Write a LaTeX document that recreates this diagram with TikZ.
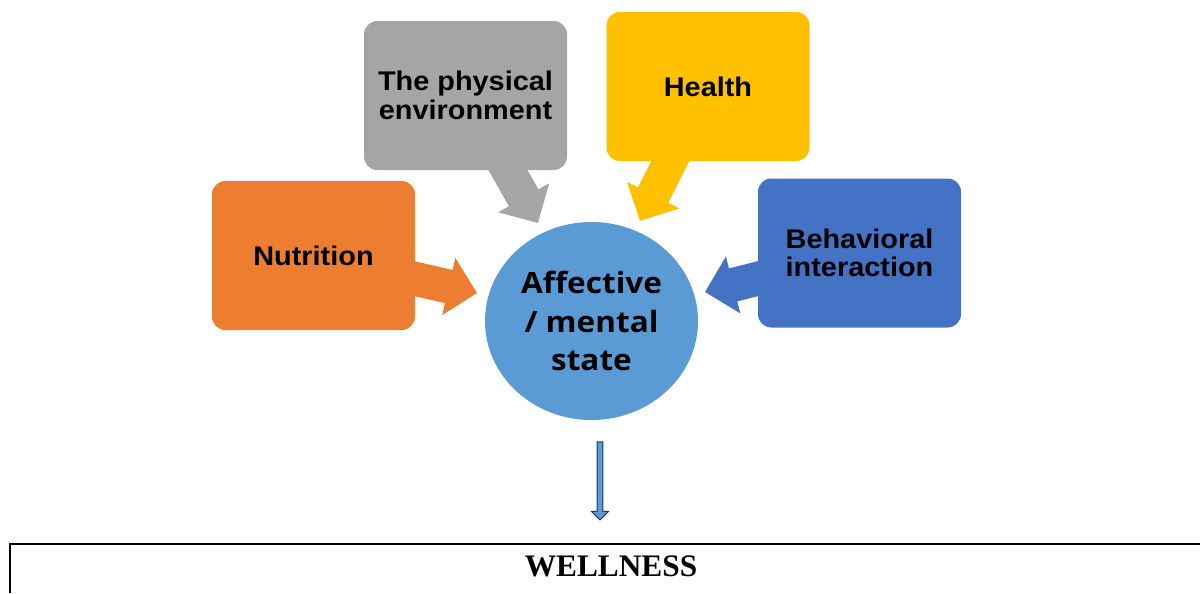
\documentclass[tikz,border=0pt]{standalone}
\usepackage{fontspec}
\setmainfont{Liberation Serif}
\newfontfamily\boxfont[FakeStretch=1.07]{Liberation Sans}
\newfontfamily\circfont[FakeStretch=1.075]{Open Sans}
\usetikzlibrary{arrows.meta,shapes.geometric,shapes.arrows,backgrounds}
\definecolor{nutorange}{HTML}{ED7D31}
\definecolor{envgray}{HTML}{A5A5A5}
\definecolor{healthyellow}{HTML}{FFC000}
\definecolor{behavblue}{HTML}{4472C4}
\definecolor{stateblue}{HTML}{5B9BD5}
\definecolor{downnavy}{HTML}{203864}
\begin{document}
\begin{tikzpicture}[x=0.75pt,y=-0.75pt,
  factor/.style={rounded corners=10pt, minimum width=152.25pt, minimum height=111.75pt, inner sep=0pt, align=center, font=\boxfont\bfseries\fontsize{20.25}{21.5}\selectfont},
  feed/.style={line width=25.5pt, -{Triangle[length=21.75pt,width=42.75pt]}}]
\useasboundingbox (0,0) rectangle (1200,593);
\node[factor, fill=nutorange] (nut) at (313.5,255.5){Nutrition};
\node[factor, fill=envgray] (env) at (465.5,95.5){The physical\\environment};
\node[factor, fill=healthyellow] (health) at (708,86.5){Health};
\node[factor, fill=behavblue] (behav) at (859.5,253){Behavioral\\interaction};
\node[ellipse, fill=stateblue, minimum width=159.75pt, minimum height=148.5pt, inner sep=0pt, align=center, font=\circfont\bfseries\fontsize{22}{29}\selectfont] (state) at (591.5,321){Affective\\/ mental\\state};
\coordinate (tnut) at (477,293);
\coordinate (tenv) at (538,223);
\coordinate (thealth) at (640,221);
\coordinate (tbehav) at (705,292);
\begin{scope}[on background layer]
\draw[feed, nutorange] (nut.center) -- (tnut);
\draw[feed, envgray] (env.center) -- (tenv);
\draw[feed, healthyellow] (health.center) -- (thealth);
\draw[feed, behavblue] (behav.center) -- (tbehav);
\end{scope}
\node[single arrow, draw=downnavy, fill=stateblue, line width=0.8pt, rotate=-90, minimum height=58.5pt, inner xsep=0pt, inner ysep=1.75pt, single arrow head extend=4.25pt] (down) at (600,479.5){};
\draw[line width=1.1pt] (10,593) -- (10,544) -- (1200,544);
\node[font=\bfseries\fontsize{23.5}{28}\selectfont] (well) at (611,566){WELLNESS};
\end{tikzpicture}
\end{document}
